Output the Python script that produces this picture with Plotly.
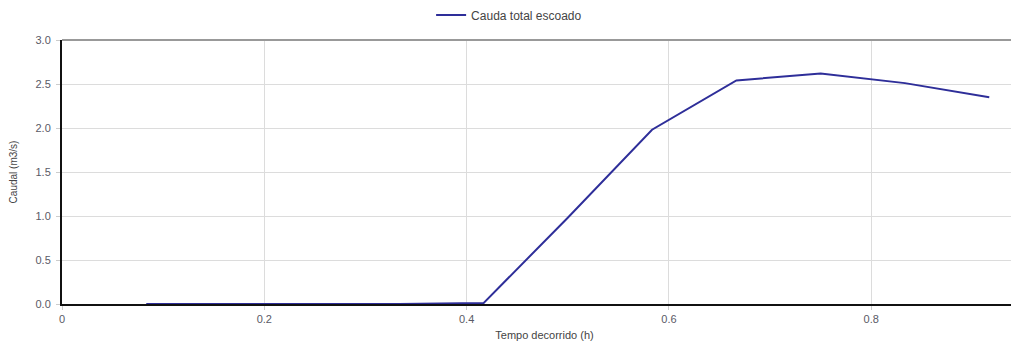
import plotly.graph_objects as go

tempo_h = [0.0833, 0.1667, 0.25, 0.3333, 0.4167, 0.5, 0.5833, 0.6667, 0.75, 0.8333, 0.9167]
caudal = [0.0, 0.0, 0.0, 0.0, 0.01, 0.98, 1.98, 2.54, 2.62, 2.51, 2.35]
serie_nome = "Cauda total escoado"
x_titulo = "Tempo decorrido (h)"
y_titulo = "Caudal (m3/s)"

fig = go.Figure()
fig.add_trace(go.Scatter(x=tempo_h, y=caudal, mode="lines", name=serie_nome,
                         line=dict(color="#2e2e99", width=2)))

fig.update_layout(
    width=1019, height=334,
    margin=dict(l=54, r=0, t=32, b=38, autoexpand=False),
    paper_bgcolor="white", plot_bgcolor="white",
    font=dict(family="Liberation Sans, Arial, sans-serif", size=11, color="#5a5a66"),
    showlegend=True,
    legend=dict(orientation="h", x=0.3825, xanchor="left", y=1.095, yanchor="middle",
                font=dict(size=12, color="#444"), itemwidth=30),
    xaxis=dict(range=[0, 0.954], tickvals=[0, 0.2, 0.4, 0.6, 0.8],
               ticktext=["0", "0.2", "0.4", "0.6", "0.8"],
               showgrid=True, gridcolor="#dcdcdc", gridwidth=1,
               showline=True, linecolor="#111", linewidth=2,
               ticks="outside", ticklen=4, tickcolor="#ccc",
               zeroline=False, automargin=False,
               title=dict(text=x_titulo, font=dict(size=11, color="#444"), standoff=7)),
    yaxis=dict(range=[0, 3.0], tickvals=[0, 0.5, 1.0, 1.5, 2.0, 2.5, 3.0],
               ticktext=["0.0", "0.5", "1.0", "1.5", "2.0", "2.5", "3.0"],
               showgrid=True, gridcolor="#dcdcdc", gridwidth=1,
               showline=True, linecolor="#111", linewidth=2,
               ticks="outside", ticklen=4, tickcolor="#ccc",
               ticklabelstandoff=3,
               zeroline=False, automargin=False,
               title=dict(text=y_titulo, font=dict(size=10, color="#444"), standoff=19)),
)
fig.add_shape(type="line", xref="paper", yref="paper", x0=0, x1=1, y0=1, y1=1,
              line=dict(color="#999", width=2))
fig.write_html("out.html")
